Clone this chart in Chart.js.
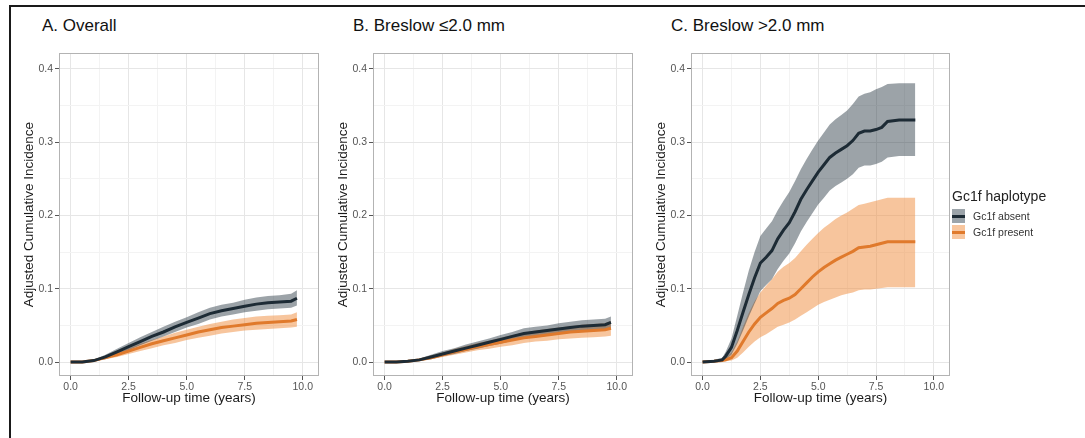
<!DOCTYPE html>
<html>
<head>
<meta charset="utf-8">
<script src="https://cdn.jsdelivr.net/npm/chart.js@4.4.1/dist/chart.umd.min.js"></script>
<style>
  body { margin: 0; background: #fff; width: 1085px; height: 438px; overflow: hidden; position: relative;
         font-family: "Liberation Sans", Arial, Helvetica, sans-serif; }
  #frame { position: absolute; left: 9px; top: 5px; width: 1100px; height: 460px; border: 2px solid #1a1a1a; box-sizing: border-box; }
  .ptitle { position: absolute; top: 16px; font-size: 17px; line-height: 20px; color: #111; white-space: nowrap; }
  canvas { position: absolute; top: 45px; }
  #legend { position: absolute; left: 952px; top: 188px; color: #222; }
  #legend .lt { font-size: 14px; line-height: 17px; margin-bottom: 3px; white-space: nowrap; }
  #legend .row { display: flex; align-items: center; height: 16px; }
  #legend .key { width: 13px; height: 14px; position: relative; margin-right: 8px; }
  #legend .key span { position: absolute; left: 0; right: 0; top: 5.5px; height: 3px; }
  #legend .lab { font-size: 10.5px; color: #333; }
</style>
</head>
<body>
<div id="frame"></div>
<div class="ptitle" style="left:42px">A. Overall</div>
<div class="ptitle" style="left:353px">B. Breslow ≤2.0 mm</div>
<div class="ptitle" style="left:671px">C. Breslow &gt;2.0 mm</div>

<canvas id="chartA" width="305" height="370" style="left:18px"></canvas>
<canvas id="chartB" width="305" height="370" style="left:332px"></canvas>
<canvas id="chartC" width="304" height="370" style="left:650px"></canvas>

<div id="legend">
  <div class="lt">Gc1f haplotype</div>
  <div class="row"><div class="key" style="background:#9ca4aa"><span style="background:#1d2b35"></span></div><div class="lab">Gc1f absent</div></div>
  <div class="row"><div class="key" style="background:#f8c69e"><span style="background:#e07a2c"></span></div><div class="lab">Gc1f present</div></div>
</div>

<script>
// axis ticks (major ones get labels, minor ones only a faint grid line)
const xTicks = [0, 1.25, 2.5, 3.75, 5, 6.25, 7.5, 8.75, 10];
const xLabels = ['0.0', '', '2.5', '', '5.0', '', '7.5', '', '10.0'];
const yTicks = [0, 0.05, 0.1, 0.15, 0.2, 0.25, 0.3, 0.35, 0.4];
const yLabels = ['0.0', '', '0.1', '', '0.2', '', '0.3', '', '0.4'];

// A. Overall
const timeA = [0, 0.5, 1.0, 1.5, 2.0, 2.5, 3.0, 3.5, 4.0, 4.5, 5.0, 5.5, 6.0, 6.5, 7.0, 7.5, 8.0, 8.5, 9.0, 9.5, 9.75];
const absentA   = [0, 0, 0.002, 0.007, 0.014, 0.021, 0.028, 0.035, 0.041, 0.048, 0.054, 0.060, 0.066, 0.070, 0.073, 0.076, 0.079, 0.081, 0.082, 0.083, 0.087];
const absentLoA = [0, 0, 0.001, 0.004, 0.010, 0.016, 0.023, 0.029, 0.035, 0.041, 0.047, 0.052, 0.058, 0.062, 0.065, 0.068, 0.070, 0.072, 0.073, 0.074, 0.077];
const absentHiA = [0, 0.001, 0.003, 0.010, 0.018, 0.026, 0.034, 0.041, 0.048, 0.055, 0.061, 0.068, 0.074, 0.078, 0.081, 0.085, 0.088, 0.090, 0.091, 0.093, 0.098];
const presentA   = [0, 0, 0.002, 0.006, 0.010, 0.015, 0.020, 0.025, 0.029, 0.033, 0.037, 0.041, 0.044, 0.047, 0.049, 0.051, 0.053, 0.054, 0.055, 0.056, 0.058];
const presentLoA = [0, 0, 0.001, 0.004, 0.007, 0.011, 0.015, 0.019, 0.023, 0.026, 0.030, 0.033, 0.036, 0.039, 0.041, 0.043, 0.044, 0.045, 0.046, 0.047, 0.048];
const presentHiA = [0, 0.001, 0.003, 0.008, 0.013, 0.019, 0.025, 0.030, 0.035, 0.040, 0.044, 0.048, 0.052, 0.055, 0.058, 0.060, 0.062, 0.063, 0.064, 0.065, 0.068];

// B. Breslow <= 2.0 mm
const timeB = timeA;
const absentB   = [0, 0, 0.001, 0.003, 0.007, 0.011, 0.015, 0.019, 0.023, 0.027, 0.031, 0.035, 0.039, 0.041, 0.043, 0.045, 0.047, 0.049, 0.050, 0.051, 0.054];
const absentLoB = [0, 0, 0, 0.002, 0.004, 0.008, 0.011, 0.015, 0.018, 0.022, 0.025, 0.029, 0.032, 0.034, 0.036, 0.038, 0.040, 0.042, 0.043, 0.044, 0.046];
const absentHiB = [0, 0, 0.002, 0.005, 0.010, 0.015, 0.019, 0.024, 0.028, 0.032, 0.037, 0.041, 0.046, 0.048, 0.050, 0.053, 0.055, 0.057, 0.058, 0.059, 0.062];
const presentB   = [0, 0, 0.001, 0.003, 0.006, 0.010, 0.014, 0.017, 0.021, 0.024, 0.027, 0.030, 0.033, 0.035, 0.037, 0.039, 0.041, 0.042, 0.043, 0.044, 0.046];
const presentLoB = [0, 0, 0, 0.002, 0.004, 0.007, 0.010, 0.013, 0.016, 0.018, 0.021, 0.023, 0.026, 0.028, 0.029, 0.031, 0.032, 0.033, 0.034, 0.035, 0.036];
const presentHiB = [0, 0, 0.002, 0.005, 0.009, 0.013, 0.018, 0.022, 0.026, 0.029, 0.033, 0.037, 0.040, 0.043, 0.045, 0.047, 0.049, 0.051, 0.052, 0.053, 0.056];

// C. Breslow > 2.0 mm
const timeC = [0, 0.5, 0.85, 1.0, 1.25, 1.5, 1.75, 2.0, 2.25, 2.5, 2.75, 3.0, 3.25, 3.5, 3.75, 4.0, 4.25, 4.5, 4.75, 5.0,
               5.25, 5.5, 5.75, 6.0, 6.25, 6.5, 6.75, 7.0, 7.25, 7.5, 7.75, 8.0, 8.5, 9.2];
const absentC   = [0, 0.001, 0.003, 0.008, 0.020, 0.043, 0.068, 0.092, 0.115, 0.135, 0.143, 0.152, 0.168, 0.180, 0.190, 0.205, 0.222, 0.235, 0.247, 0.259,
                   0.269, 0.279, 0.285, 0.290, 0.295, 0.302, 0.312, 0.315, 0.315, 0.317, 0.320, 0.328, 0.330, 0.330];
const absentLoC = [0, 0, 0.001, 0.003, 0.010, 0.025, 0.043, 0.062, 0.080, 0.097, 0.105, 0.113, 0.127, 0.138, 0.148, 0.162, 0.178, 0.191, 0.203, 0.215,
                   0.224, 0.234, 0.240, 0.245, 0.250, 0.256, 0.265, 0.268, 0.268, 0.270, 0.273, 0.279, 0.281, 0.281];
const absentHiC = [0.002, 0.003, 0.006, 0.014, 0.032, 0.063, 0.095, 0.125, 0.150, 0.172, 0.182, 0.192, 0.207, 0.220, 0.232, 0.247, 0.263, 0.277, 0.290, 0.302,
                   0.313, 0.324, 0.331, 0.337, 0.343, 0.352, 0.362, 0.366, 0.368, 0.372, 0.375, 0.379, 0.380, 0.380];
const presentC   = [0, 0.001, 0.002, 0.003, 0.006, 0.015, 0.028, 0.041, 0.052, 0.061, 0.067, 0.073, 0.080, 0.084, 0.087, 0.092, 0.100, 0.108, 0.116, 0.123,
                    0.129, 0.134, 0.139, 0.143, 0.147, 0.151, 0.156, 0.157, 0.158, 0.160, 0.162, 0.164, 0.164, 0.164];
const presentLoC = [0, 0, 0.001, 0.001, 0.002, 0.006, 0.013, 0.021, 0.028, 0.034, 0.038, 0.043, 0.048, 0.051, 0.054, 0.058, 0.063, 0.068, 0.073, 0.078,
                    0.082, 0.085, 0.088, 0.091, 0.093, 0.095, 0.098, 0.099, 0.099, 0.100, 0.101, 0.102, 0.102, 0.102];
const presentHiC = [0.001, 0.002, 0.004, 0.006, 0.013, 0.028, 0.048, 0.067, 0.083, 0.095, 0.104, 0.113, 0.123, 0.130, 0.135, 0.142, 0.151, 0.160, 0.168, 0.176,
                    0.183, 0.189, 0.195, 0.200, 0.204, 0.209, 0.214, 0.216, 0.218, 0.220, 0.222, 0.224, 0.224, 0.224];

const darkLine = '#1d2b35';
const darkBand = 'rgba(40, 55, 65, 0.46)';
const orangeLine = '#e07a2c';
const orangeBand = 'rgba(240, 140, 60, 0.5)';
const fontFamily = '"Liberation Sans", Arial, Helvetica, sans-serif';

const toXY = (t, ys) => t.map((x, i) => ({ x: x, y: ys[i] }));

// grey frame round the plotting area, like theme_bw
const panelBorder = {
    id: 'panelBorder',
    afterDatasetsDraw(chart) {
        const { ctx, chartArea: a } = chart;
        ctx.save();
        ctx.strokeStyle = '#b3b3b3';
        ctx.lineWidth = 1;
        ctx.strokeRect(Math.round(a.left) + 0.5, Math.round(a.top) + 0.5, Math.round(a.width) - 1, Math.round(a.height) - 1);
        ctx.restore();
    }
};

function axisGrid() {
    return {
        color: (c) => c.index % 2 === 0 ? '#e6e6e6' : '#f3f3f3',
        lineWidth: 1,
        drawTicks: true,
        tickLength: 4,
        tickColor: (c) => c.index % 2 === 0 ? '#555' : 'rgba(0,0,0,0)'
    };
}

function makePanel(id, t, absEst, absLo, absHi, preEst, preLo, preHi) {
    const ctx = document.getElementById(id).getContext('2d');
    const band = (ys, fill, bg) => ({
        data: toXY(t, ys), borderWidth: 0, borderColor: 'rgba(0,0,0,0)',
        pointRadius: 0, fill: fill, backgroundColor: bg, tension: 0
    });
    new Chart(ctx, {
        type: 'line',
        data: {
            datasets: [
                { data: toXY(t, absEst), borderColor: darkLine, borderWidth: 3, pointRadius: 0, fill: false, tension: 0 },
                { data: toXY(t, preEst), borderColor: orangeLine, borderWidth: 3, pointRadius: 0, fill: false, tension: 0 },
                band(absHi, '+1', darkBand),
                band(absLo, false, 'rgba(0,0,0,0)'),
                band(preHi, '+1', orangeBand),
                band(preLo, false, 'rgba(0,0,0,0)')
            ]
        },
        options: {
            responsive: false,
            animation: false,
            events: [],
            layout: { padding: { top: 8, right: 4, left: 0, bottom: 0 } },
            plugins: { legend: { display: false }, tooltip: { enabled: false } },
            scales: {
                x: {
                    type: 'linear',
                    min: -0.5,
                    max: 10.7,
                    afterBuildTicks: (s) => { s.ticks = xTicks.map(v => ({ value: v })); },
                    afterFit: (s) => { s.height = 39; },
                    ticks: {
                        autoSkip: false, maxRotation: 0, padding: 1,
                        color: '#555', font: { family: fontFamily, size: 10.5 },
                        callback: (v, i) => xLabels[i]
                    },
                    grid: axisGrid(),
                    border: { display: false },
                    title: {
                        display: true, text: 'Follow-up time (years)', color: '#1a1a1a',
                        font: { family: fontFamily, size: 13.5 }, padding: { top: 0, bottom: 9 }
                    }
                },
                y: {
                    min: -0.019,
                    max: 0.421,
                    afterBuildTicks: (s) => { s.ticks = yTicks.map(v => ({ value: v })); },
                    afterFit: (s) => { s.width = 41; },
                    ticks: {
                        autoSkip: false, padding: 2,
                        color: '#555', font: { family: fontFamily, size: 10.5 },
                        callback: (v, i) => yLabels[i]
                    },
                    grid: axisGrid(),
                    border: { display: false },
                    title: {
                        display: true, text: 'Adjusted Cumulative Incidence', color: '#1a1a1a',
                        font: { family: fontFamily, size: 13.5 }, padding: { top: 3, bottom: 0 }
                    }
                }
            }
        },
        plugins: [panelBorder]
    });
}

makePanel('chartA', timeA, absentA, absentLoA, absentHiA, presentA, presentLoA, presentHiA);
makePanel('chartB', timeB, absentB, absentLoB, absentHiB, presentB, presentLoB, presentHiB);
makePanel('chartC', timeC, absentC, absentLoC, absentHiC, presentC, presentLoC, presentHiC);
</script>
</body>
</html>
